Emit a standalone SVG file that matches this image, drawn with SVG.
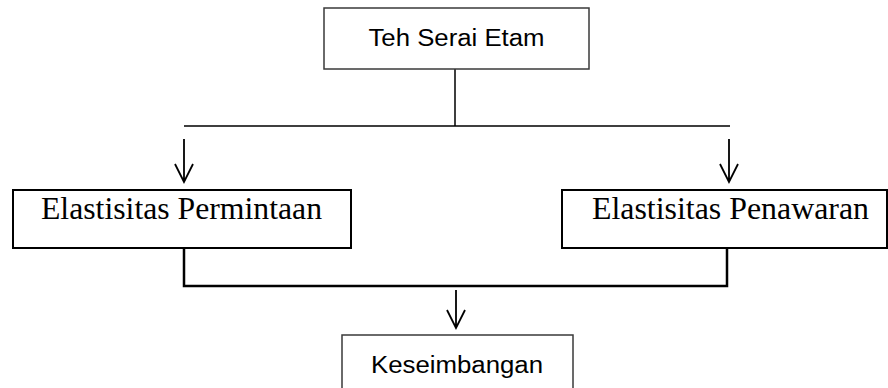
<svg xmlns="http://www.w3.org/2000/svg" width="888" height="388" viewBox="0 0 888 388">
<style>
.bx1{fill:#fff;stroke:#3a3a3a;stroke-width:1.5}
.bx2{fill:#fff;stroke:#000;stroke-width:2}
.ln{fill:none;stroke:#000;stroke-width:1.5}
.ln2{fill:none;stroke:#000;stroke-width:2.5}
.ar{fill:none;stroke:#000;stroke-width:1.8}
.sans{font-family:"Liberation Sans","Open Sans",sans-serif;font-size:23px;fill:#000}
.serif{font-family:"Liberation Serif","Times New Roman",serif;font-size:31.5px;fill:#000}
</style>
<rect width="888" height="388" fill="#fff"/>
<g id="connectors">
<path class="ln" d="M455 69V126M184 126H730"/>
<path class="ar" d="M184 139V182M175 164L184 182L193 164"/>
<path class="ar" d="M729 139V182M720 164L729 182L738 164"/>
<path class="ln2" d="M184 248V286H727V248"/>
<path class="ar" d="M456 290V328M447 310L456 328L465 310"/>
</g>
<g id="teh">
<rect class="bx1" x="324" y="8" width="265" height="61"/>
<text class="sans" x="456.5" y="46" text-anchor="middle" textLength="176" lengthAdjust="spacingAndGlyphs">Teh Serai Etam</text>
</g>
<g id="permintaan">
<rect class="bx2" x="13" y="190" width="338" height="58"/>
<text class="serif" x="181.5" y="219" text-anchor="middle" textLength="281" lengthAdjust="spacingAndGlyphs">Elastisitas Permintaan</text>
</g>
<g id="penawaran">
<rect class="bx2" x="562" y="190" width="325" height="58"/>
<text class="serif" x="730.5" y="219" text-anchor="middle" textLength="277" lengthAdjust="spacingAndGlyphs">Elastisitas Penawaran</text>
</g>
<g id="keseimbangan">
<rect class="bx1" x="342" y="335" width="231" height="70"/>
<text class="sans" x="457" y="373" text-anchor="middle" textLength="172" lengthAdjust="spacingAndGlyphs">Keseimbangan</text>
</g>
</svg>
